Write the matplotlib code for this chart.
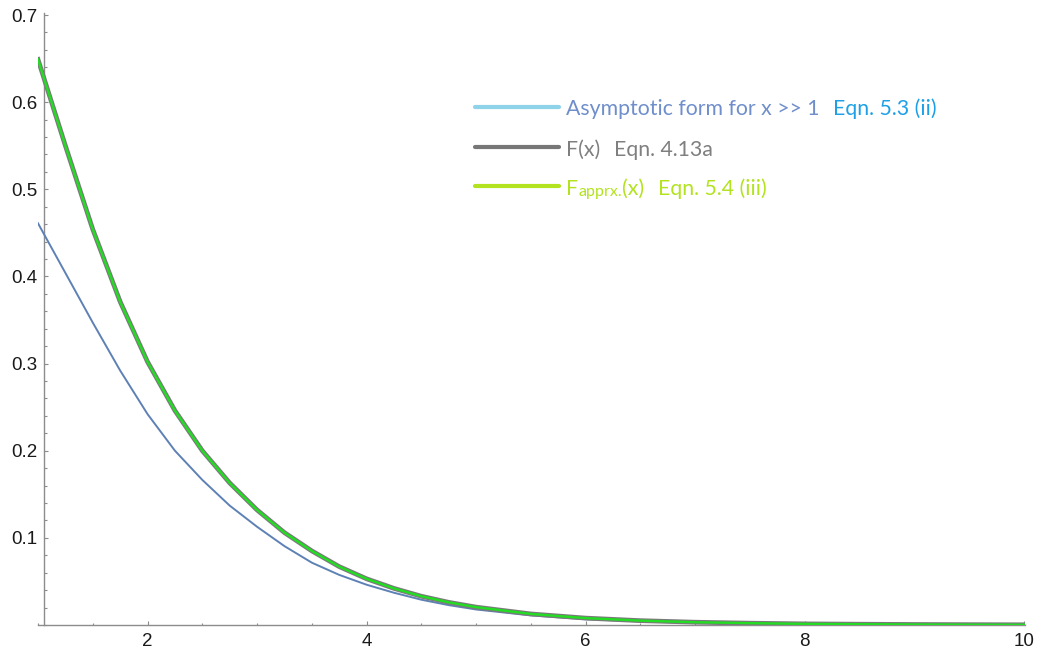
import matplotlib.pyplot as plt
from matplotlib.ticker import MultipleLocator, FixedLocator

# sampled values of the curves
x = [1.0, 1.25, 1.5, 1.75, 2.0, 2.25, 2.5, 2.75, 3.0, 3.25, 3.5, 3.75, 4.0,
     4.25, 4.5, 4.75, 5.0, 5.5, 6.0, 6.5, 7.0, 7.5, 8.0, 8.5, 9.0, 9.5, 10.0]
F_exact = [0.649, 0.550, 0.454, 0.371, 0.302, 0.246, 0.200, 0.163, 0.132, 0.106,
           0.085, 0.067, 0.053, 0.042, 0.033, 0.026, 0.0205, 0.0127, 0.0079,
           0.0050, 0.0032, 0.0021, 0.0013, 0.0009, 0.0006, 0.0004, 0.00025]
F_apprx = F_exact
F_asym = [0.461, 0.404, 0.347, 0.292, 0.242, 0.200, 0.1665, 0.137, 0.1127, 0.0905,
          0.0715, 0.0575, 0.0462, 0.037, 0.029, 0.0228, 0.0178, 0.011, 0.0066,
          0.0041, 0.0025, 0.0016, 0.001, 0.0006, 0.0004, 0.00025, 0.00015]

x_major = [2, 4, 6, 8, 10]
y_major = [0.1, 0.2, 0.3, 0.4, 0.5, 0.6, 0.7]

W, H = 1039, 651
fig = plt.figure(figsize=(W / 100, H / 100), dpi=100)
ax = fig.add_axes([38 / W, 1 - 625 / H, 987 / W, 612 / H])

ax.plot(x, F_asym, color='#5e81b5', lw=1.4, zorder=3)
ax.plot(x, F_exact, color='#7a7a7a', lw=3.4, zorder=4)
ax.plot(x, F_apprx, color='#22dd22', lw=1.7, zorder=5)

ax.set_xlim(1, 10.01)
ax.set_ylim(0, 0.7023)

axis_col = '#8c8c8c'
for s in ['top', 'right']:
    ax.spines[s].set_visible(False)
ax.spines['left'].set_position(('data', 1.055))
ax.spines['bottom'].set_position(('data', 0))
for s in ['left', 'bottom']:
    ax.spines[s].set_color(axis_col)
    ax.spines[s].set_linewidth(1.0)

ax.xaxis.set_major_locator(FixedLocator(x_major))
ax.xaxis.set_minor_locator(MultipleLocator(0.5))
ax.yaxis.set_major_locator(FixedLocator(y_major))
ax.yaxis.set_minor_locator(MultipleLocator(0.02))
ax.set_xticklabels([str(v) for v in x_major])
ax.set_yticklabels([str(v) for v in y_major])

ax.tick_params(which='both', direction='in', color=axis_col, width=0.8,
               labelsize=13.5, labelcolor='#1a1a1a', labelfontfamily='Liberation Sans')
ax.tick_params(which='major', length=3.0)
ax.tick_params(which='minor', length=1.8)
ax.tick_params(axis='x', pad=6)
ax.tick_params(axis='y', pad=5)

# legend drawn by hand
font = 'Lato'
fs = 15.3
rows = [(107, '#8fd3e8'), (147, '#777777'), (186, '#b2e31e')]
for ly, c in rows:
    ax.plot([475 / W, 559 / W], [1 - ly / H] * 2, transform=fig.transFigure,
            color=c, lw=3.0, solid_capstyle='round', clip_on=False)


def after(prev, txt, col, size, gap):
    return ax.annotate(txt, xy=(1, 0), xycoords=prev, xytext=(gap, 0),
                       textcoords='offset points', color=col, fontsize=size,
                       family=font, va='bottom', annotation_clip=False)


t1 = fig.text(566 / W, 1 - 115 / H, 'Asymptotic form for x >> 1', color='#6f8ecb',
              fontsize=fs, family=font, va='baseline')
after(t1, 'Eqn. 5.3 (ii)', '#1ea0e6', fs, 10)

t2 = fig.text(566 / W, 1 - 156 / H, 'F(x)', color='#7f7f7f', fontsize=fs,
              family=font, va='baseline')
after(t2, 'Eqn. 4.13a', '#7f7f7f', fs, 10)

green = '#b2e31e'
t3 = fig.text(566 / W, 1 - 195 / H, 'F', color=green, fontsize=fs,
              family=font, va='baseline')
t4 = after(t3, 'apprx.', green, 11.5, 0)
t5 = after(t4, '(x)', green, fs, 0)
after(t5, 'Eqn. 5.4 (iii)', green, fs, 10)

fig.savefig('out.png', dpi=100)
